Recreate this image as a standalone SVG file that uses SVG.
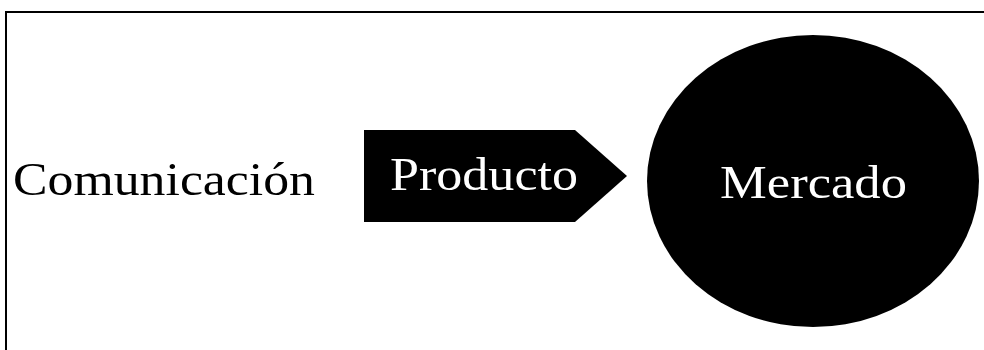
<svg xmlns="http://www.w3.org/2000/svg" width="984" height="350" viewBox="0 0 984 350">
  <style>
    .label { font-family: "Liberation Serif", "Times New Roman", serif; font-size: 47px; }
    .dark { fill: #000; }
    .light { fill: #fff; }
  </style>
  <rect width="984" height="350" fill="#fff"/>
  <!-- outer frame -->
  <rect x="6" y="12" width="990" height="360" fill="none" stroke="#000" stroke-width="2"/>
  <g id="comunicacion">
    <text class="label dark" x="13" y="195" textLength="302" lengthAdjust="spacingAndGlyphs">Comunicación</text>
  </g>
  <g id="producto">
    <polygon class="dark" points="364,130 575,130 627,176 575,222 364,222"/>
    <text class="label light" x="390" y="190" textLength="188" lengthAdjust="spacingAndGlyphs">Producto</text>
  </g>
  <g id="mercado">
    <ellipse class="dark" cx="813" cy="181" rx="166" ry="146"/>
    <text class="label light" x="720" y="198" textLength="187" lengthAdjust="spacingAndGlyphs">Mercado</text>
  </g>
  <g id="connectors"></g>
</svg>
